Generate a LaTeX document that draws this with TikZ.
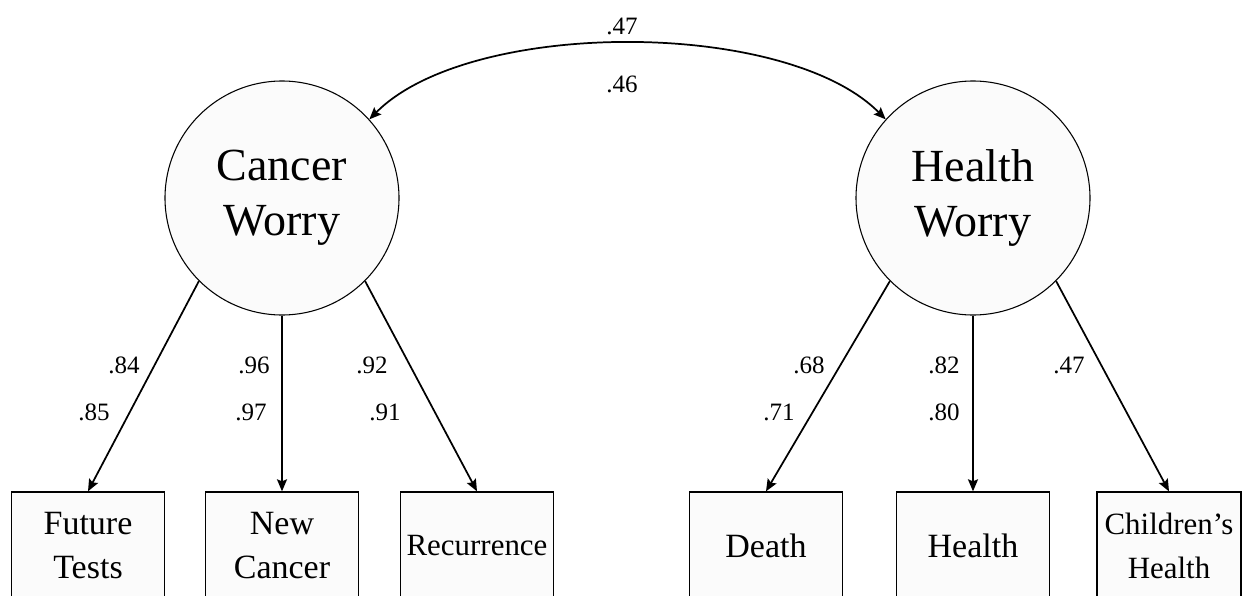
\documentclass[tikz,border=0pt]{standalone}
\usepackage{fontspec}
\setmainfont{Liberation Serif}
\usetikzlibrary{arrows.meta}
\begin{document}
\begin{tikzpicture}[x=0.75pt,y=-0.75pt,
  latent/.style={circle, draw, line width=0.8pt, fill=black!1.5, minimum size=175.5pt, inner sep=0pt, align=center, font=\fontsize{34.5}{41}\selectfont},
  obs/.style={rectangle, draw, line width=1pt, fill=black!1.5, minimum width=114.75pt, minimum height=81pt, inner sep=0pt, align=center, font=\fontsize{25.5}{33}\selectfont},
  smalltext/.style={font=\fontsize{23.2}{33}\selectfont},
  coef/.style={inner sep=0pt, font=\fontsize{18.75}{22}\selectfont},
  loading/.style={line width=1.3pt, -{Stealth[length=9pt,width=7.5pt,inset=1.5pt]}},
  cov/.style={line width=1.3pt, {Stealth[length=9pt,width=7.5pt,inset=1.5pt]}-{Stealth[length=9pt,width=7.5pt,inset=1.5pt]}},
]
\useasboundingbox (0,0) rectangle (1243,596);
\clip (0,0) rectangle (1243,596);

% latent variables
\node[latent] (cw) at (282,198) {Cancer\\Worry};
\node[latent] (hw) at (973,198) {Health\\Worry};

% observed variables
\node[obs] (b1) at (88,546) {Future\\Tests};
\node[obs] (b2) at (282,546) {New\\Cancer};
\node[obs, smalltext] (b3) at (477,546) {Recurrence};
\node[obs] (b4) at (766,546) {Death};
\node[obs] (b5) at (973,546) {Health};
\node[obs, smalltext, minimum width=108pt] (b6) at (1169,546) {Children’s\\Health};

% loadings
\draw[loading] (cw.225) -- (b1.north);
\draw[loading] (cw.south) -- (b2.north);
\draw[loading] (cw.315) -- (b3.north);
\draw[loading] (hw.225) -- (b4.north);
\draw[loading] (hw.south) -- (b5.north);
\draw[loading] (hw.315) -- (b6.north);

% covariance
\draw[cov] (cw.42) .. controls +(100,-101) and +(-100,-101) .. (hw.138);

% coefficients
\node[coef] (c47) at (622,26) {.47};
\node[coef] (c46) at (622,84) {.46};
\node[coef] (l1a) at (124,365) {.84};
\node[coef] (l1b) at (94,412) {.85};
\node[coef] (l2a) at (254,365) {.96};
\node[coef] (l2b) at (251,412) {.97};
\node[coef] (l3a) at (372,365) {.92};
\node[coef] (l3b) at (385,412) {.91};
\node[coef] (l4a) at (809,365) {.68};
\node[coef] (l4b) at (779,412) {.71};
\node[coef] (l5a) at (944,365) {.82};
\node[coef] (l5b) at (944,412) {.80};
\node[coef] (l6a) at (1069,365) {.47};
\end{tikzpicture}
\end{document}
